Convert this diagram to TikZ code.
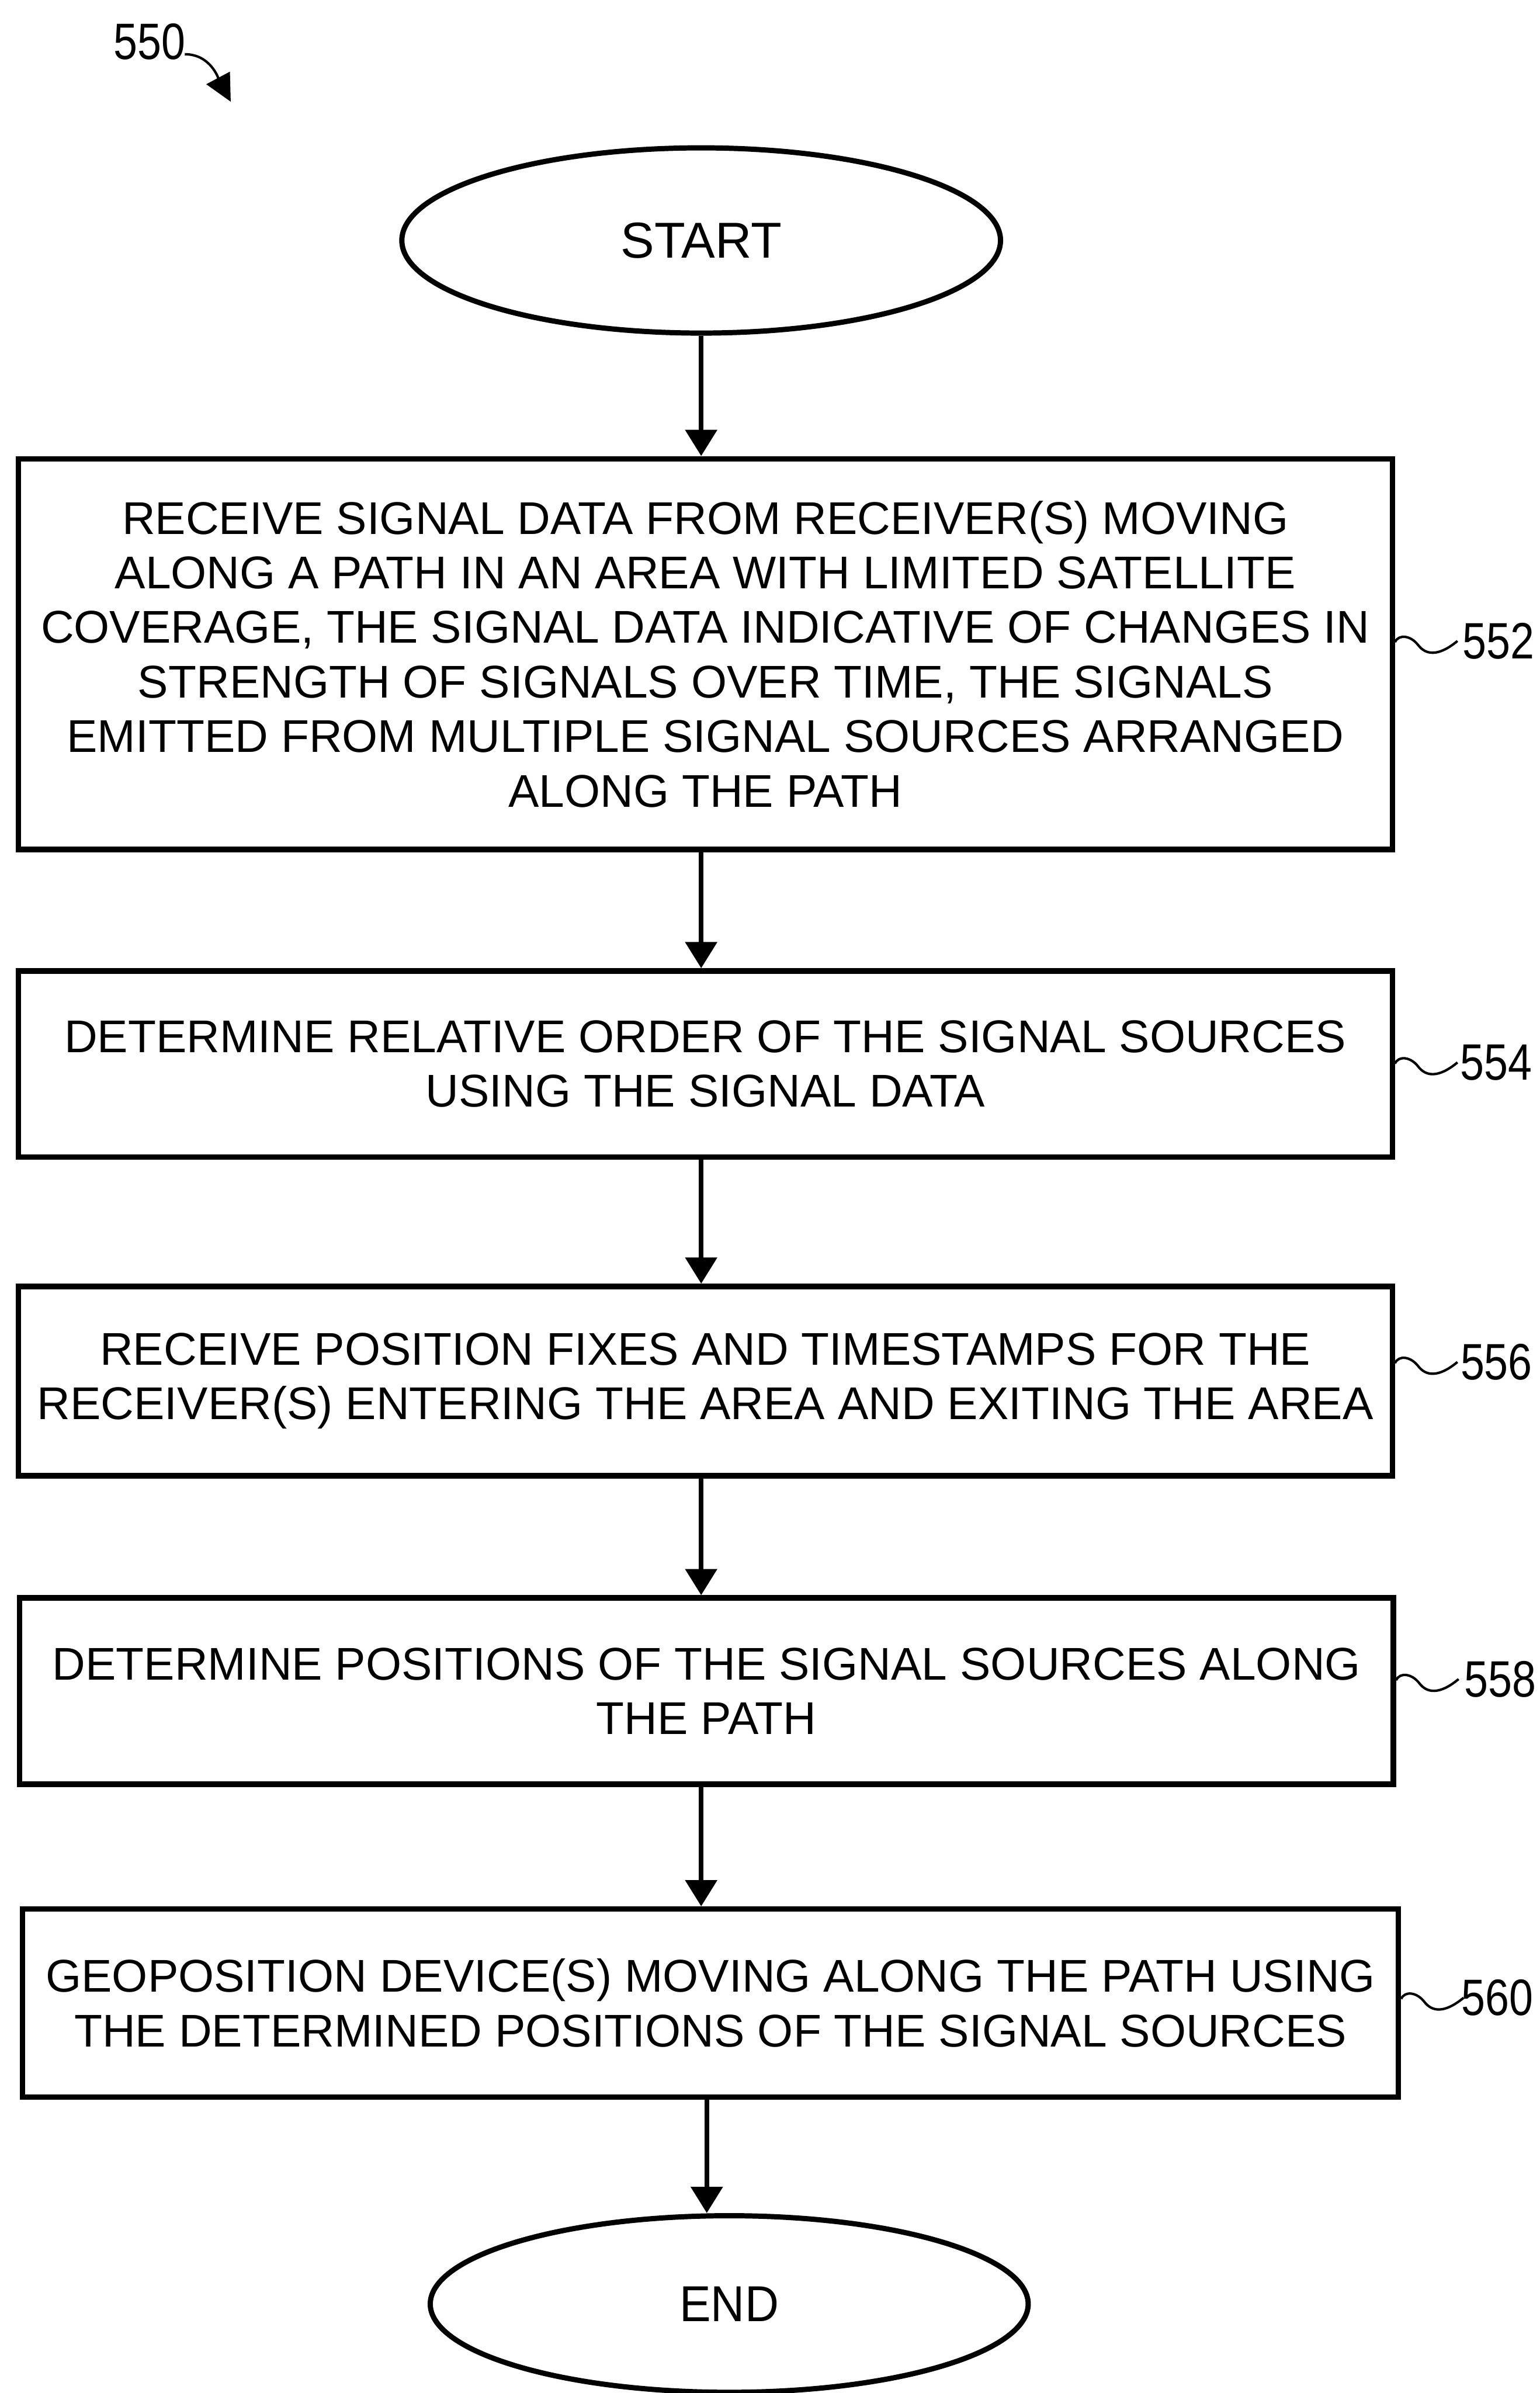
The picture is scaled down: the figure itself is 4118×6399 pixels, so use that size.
\documentclass[tikz,border=0pt]{standalone}
\usepackage{fontspec}
\setmainfont{Liberation Sans}
\usepackage{graphicx}
\usetikzlibrary{arrows.meta,shapes.geometric}

\tikzset{
  stepbox/.style={draw, rectangle, line width=0.145cm, minimum width=36.72cm,
    inner sep=0pt, align=center, font=\fontsize{34.9pt}{41.5pt}\selectfont},
  terminal/.style={draw, ellipse, line width=0.14cm, inner sep=0pt,
    minimum width=16cm, font=\fontsize{38.4pt}{46pt}\selectfont},
  flow/.style={line width=0.13cm, -{Triangle[length=0.7cm,width=0.83cm]}},
  lead/.style={line width=0.065cm},
  refnum/.style={inner sep=0pt, anchor=west, font=\fontsize{38.9pt}{46pt}\selectfont},
  squiggle/.pic={\draw[lead] (0,0) .. controls (10,-22) and (42,-18) .. (62,8)
    .. controls (82,34) and (115,40) .. (167,-3);}
}
\newcommand{\narrow}[1]{\scalebox{0.84}[1]{#1}}

\begin{document}
\begin{tikzpicture}[x=0.01cm, y=-0.01cm]
  \useasboundingbox (0,0) rectangle (4118,6399);

  % figure number
  \node[refnum] (fig) at (303,111) {\narrow{550}};
  \coordinate (figtip) at (617,272);
  \draw[lead, -{Triangle[length=0.72cm,width=0.7cm]}] (fig.east) ++(-2,34)
    to[out=0, in=118] (figtip);

  % terminals
  \node[terminal, minimum height=4.95cm] (start) at (1875,643) {START};
  \node[terminal, minimum width=15.98cm, minimum height=4.72cm] (end) at (1950,6161)
    {\scalebox{0.93}[1]{END}};

  % process steps
  \node[stepbox, minimum height=10.44cm] (b552) at (1886,1749)
    {RECEIVE SIGNAL DATA FROM RECEIVER(S) MOVING\\
     ALONG A PATH IN AN AREA WITH LIMITED SATELLITE\\
     COVERAGE, THE SIGNAL DATA INDICATIVE OF CHANGES IN\\
     STRENGTH OF SIGNALS OVER TIME, THE SIGNALS\\
     EMITTED FROM MULTIPLE SIGNAL SOURCES ARRANGED\\
     ALONG THE PATH};
  \node[stepbox, minimum height=4.97cm] (b554) at (1886,2845)
    {DETERMINE RELATIVE ORDER OF THE SIGNAL SOURCES\\
     USING THE SIGNAL DATA};
  \node[stepbox, minimum height=5.06cm] (b556) at (1886,3693)
    {RECEIVE POSITION FIXES AND TIMESTAMPS FOR THE\\
     RECEIVER(S) ENTERING THE AREA AND EXITING THE AREA};
  \node[stepbox, minimum height=4.98cm] (b558) at (1889,4522)
    {DETERMINE POSITIONS OF THE SIGNAL SOURCES ALONG\\
     THE PATH};
  \node[stepbox, minimum width=36.77cm, minimum height=5.02cm] (b560) at (1900,5356)
    {GEOPOSITION DEVICE(S) MOVING ALONG THE PATH USING\\
     THE DETERMINED POSITIONS OF THE SIGNAL SOURCES};

  % reference numerals
  \node[refnum] (l552) at (3910,1714) {\narrow{552}};
  \node[refnum] (l554) at (3904,2841) {\narrow{554}};
  \node[refnum] (l556) at (3905,3642) {\narrow{556}};
  \node[refnum] (l558) at (3915,4490) {\narrow{558}};
  \node[refnum] (l560) at (3908,5342) {\narrow{560}};

  \foreach \b/\l in {b552/l552, b554/l554, b556/l556, b558/l558, b560/l560}
    \pic at ([yshift=-0.03cm]\b.east |- \l.west) {squiggle};

  % flow
  \coordinate (ax) at (1890,0);
  \draw[flow] (start) -- (b552.north -| start);
  \draw[flow] (b552.south -| start) -- (b554.north -| start);
  \draw[flow] (b554.south -| start) -- (b556.north -| start);
  \draw[flow] (b556.south -| start) -- (b558.north -| start);
  \draw[flow] (b558.south -| start) -- (b560.north -| start);
  \draw[flow] (b560.south -| ax) -- (end.north -| ax);
\end{tikzpicture}
\end{document}
